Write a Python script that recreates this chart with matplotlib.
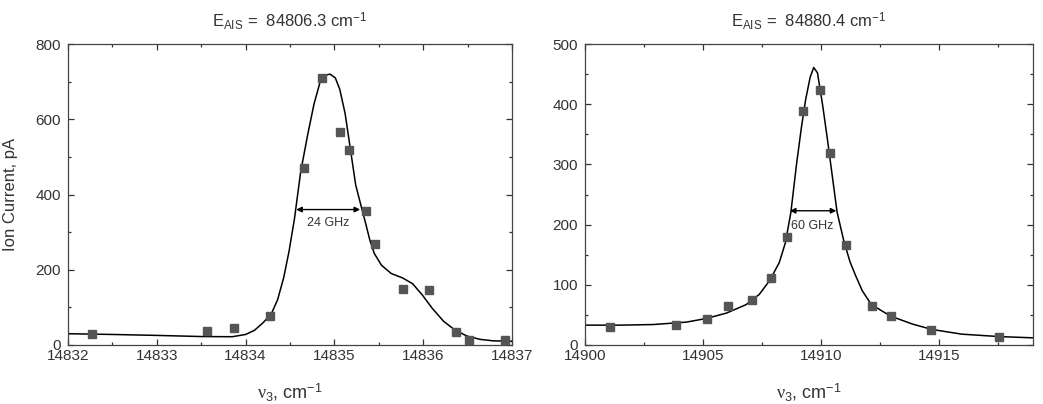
import matplotlib
matplotlib.use("Agg")
import matplotlib.pyplot as plt
from matplotlib.ticker import MultipleLocator

plt.rcParams['font.family'] = ['Liberation Sans', 'DejaVu Sans']
plt.rcParams['mathtext.fontset'] = 'custom'
plt.rcParams['mathtext.rm'] = 'Liberation Sans'
plt.rcParams['mathtext.it'] = 'Liberation Serif'
plt.rcParams['mathtext.bf'] = 'Liberation Sans:bold'

# ---- left panel data ----
left_title = r"E$_{\mathrm{AIS}}$ =  84806.3 cm$^{-1}$"
left_pts_x = [14832.27, 14833.57, 14833.87, 14834.28, 14834.66, 14834.86, 14835.06,
              14835.16, 14835.36, 14835.46, 14835.77, 14836.07, 14836.37, 14836.52, 14836.92]
left_pts_y = [28, 37, 44, 77, 471, 710, 566, 518, 356, 269, 149, 146, 34, 13, 12]
left_fit_x = [14832.00, 14832.50, 14833.00, 14833.50, 14833.85, 14834.00, 14834.10, 14834.20,
              14834.29, 14834.36, 14834.43, 14834.49, 14834.55, 14834.62, 14834.70, 14834.77,
              14834.84, 14834.90, 14834.95, 14835.01, 14835.06, 14835.12, 14835.19, 14835.24,
              14835.30, 14835.35, 14835.40, 14835.45, 14835.53, 14835.64, 14835.77, 14835.88,
              14835.99, 14836.10, 14836.23, 14836.35, 14836.49, 14836.64, 14836.79, 14837.00]
left_fit_y = [30, 28, 25.5, 22.5, 22, 28, 39, 60,
              83, 120, 180, 250, 335, 460, 560, 640,
              700, 717, 720, 710, 680, 616, 505, 425,
              370, 325, 278, 243, 212, 190, 178, 163,
              133, 98, 63, 41, 24, 15, 11, 10]
left_fwhm_x = [14834.57, 14835.29]
left_fwhm_y = 360
left_fwhm_label = "24 GHz"
left_label_pos = (14834.93, 323)

# ---- right panel data ----
right_title = r"E$_{\mathrm{AIS}}$ =  84880.4 cm$^{-1}$"
right_pts_x = [14901.06, 14903.87, 14905.18, 14906.08, 14907.08, 14907.90, 14908.55, 14909.25,
               14909.97, 14910.37, 14911.08, 14912.18, 14912.97, 14914.68, 14917.56]
right_pts_y = [30, 34, 43, 65, 75, 111, 179, 389, 424, 319, 166, 65, 49, 25, 14]
right_fit_x = [14900.0, 14901.5, 14902.9, 14904.3, 14905.14, 14906.0, 14906.83, 14907.39,
               14907.83, 14908.24, 14908.50, 14908.73, 14908.97, 14909.18, 14909.36, 14909.55,
               14909.70, 14909.86, 14910.08, 14910.28, 14910.49, 14910.69, 14910.97, 14911.24,
               14911.48, 14911.76, 14912.15, 14912.96, 14913.87, 14914.69, 14915.98, 14917.56,
               14918.94, 14919.0]
right_fit_y = [33, 33, 34, 38, 44, 53, 67, 84,
               107, 137, 170, 220, 300, 362, 408, 445,
               461, 452, 398, 342, 280, 221, 174, 138,
               115, 90, 67, 48, 35, 26, 18, 14,
               12, 12]
right_fwhm_x = [14908.69, 14910.66]
right_fwhm_y = 223
right_fwhm_label = "60 GHz"
right_label_pos = (14909.65, 197)

xlabel = r"$\nu_{3}$, cm$^{-1}$"
ylabel = "Ion Current, pA"

txt = '#333333'
fig = plt.figure(figsize=(10.43, 4.04), dpi=100)
axL = fig.add_axes([68/1043, 59/404, 444/1043, 301/404])
axR = fig.add_axes([585/1043, 59/404, 448/1043, 301/404])

def style(ax, xlim, ylim, xmaj, xmin, ymaj, ymin):
    ax.set_xlim(*xlim)
    ax.set_ylim(*ylim)
    ax.xaxis.set_major_locator(MultipleLocator(xmaj))
    ax.xaxis.set_minor_locator(MultipleLocator(xmin))
    ax.yaxis.set_major_locator(MultipleLocator(ymaj))
    ax.yaxis.set_minor_locator(MultipleLocator(ymin))
    ax.tick_params(which='both', direction='in', top=True, right=True,
                   colors='#333333', labelcolor=txt, width=0.9)
    ax.tick_params(which='major', length=4, labelsize=11)
    ax.tick_params(axis='x', which='major', pad=3)
    ax.tick_params(axis='y', which='major', pad=5)
    ax.tick_params(which='minor', length=2.2)
    ax.ticklabel_format(useOffset=False, style='plain')
    for s in ax.spines.values():
        s.set_color('#444444')
        s.set_linewidth(0.9)
    ax.set_xlabel(xlabel, fontsize=13, color=txt)
    ax.xaxis.set_label_coords(0.5, -0.12)

def panel(ax, fx, fy, px, py, title, fwx, fwy, lab, labpos):
    ax.plot(fx, fy, color='black', lw=1.1, zorder=2)
    ax.plot(px, py, linestyle='none', marker='s', markersize=5.5,
            color='#555555', zorder=3)
    ax.annotate('', xy=(fwx[1], fwy), xytext=(fwx[0], fwy),
                arrowprops=dict(arrowstyle='<|-|>', color='black', lw=1.0,
                                mutation_scale=8, shrinkA=0, shrinkB=0))
    ax.text(labpos[0], labpos[1], lab, ha='center', va='center', fontsize=9, color=txt)
    ax.set_title(title, fontsize=12, color=txt, pad=12)

style(axL, (14832, 14837), (0, 800), 1, 0.5, 200, 100)
style(axR, (14900, 14919), (0, 500), 5, 2.5, 100, 50)
panel(axL, left_fit_x, left_fit_y, left_pts_x, left_pts_y, left_title,
      left_fwhm_x, left_fwhm_y, left_fwhm_label, left_label_pos)
panel(axR, right_fit_x, right_fit_y, right_pts_x, right_pts_y, right_title,
      right_fwhm_x, right_fwhm_y, right_fwhm_label, right_label_pos)

axL.set_ylabel(ylabel, fontsize=12, color=txt)
axL.yaxis.set_label_coords(-0.112, 0.5)

fig.savefig('out.png', dpi=100)
